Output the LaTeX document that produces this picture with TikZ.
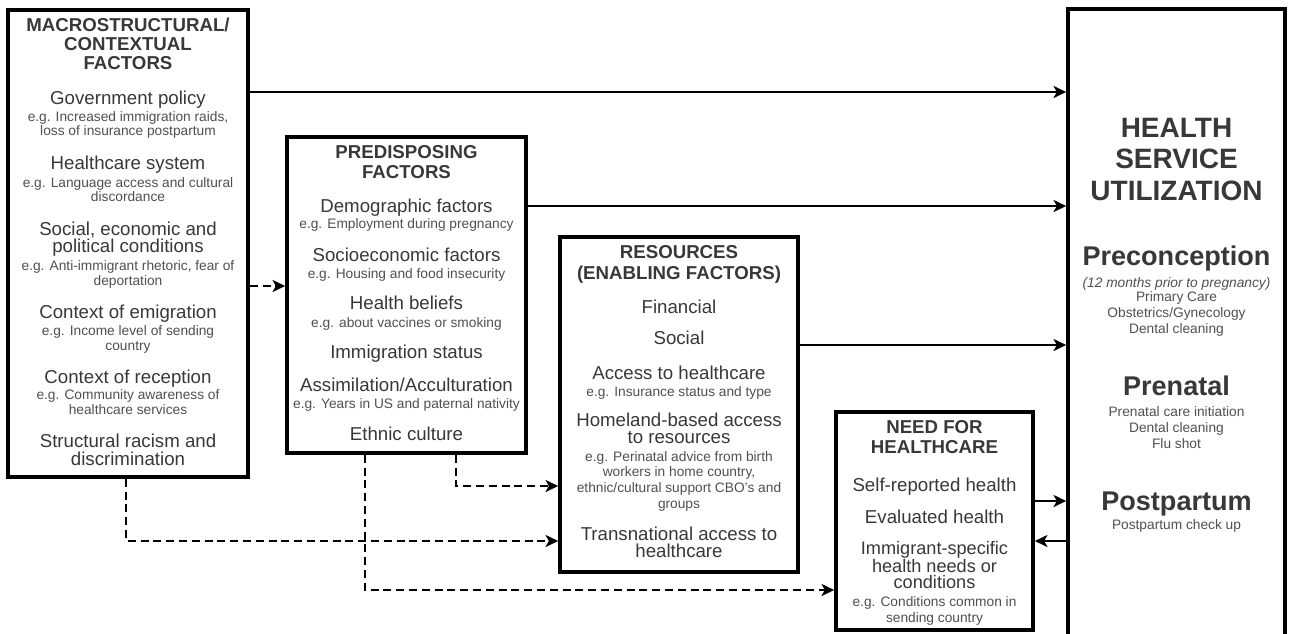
\documentclass[tikz,border=0pt]{standalone}
\usepackage{fontspec}
\setmainfont{Liberation Sans}
\usetikzlibrary{arrows.meta}
\definecolor{txt}{HTML}{383838}
\definecolor{egc}{HTML}{505050}
\tikzset{
  box/.style={draw=black, line width=2.7pt, fill=white, inner sep=0pt},
  hd/.style={font=\bfseries\fontsize{14}{14}\selectfont, text=txt, inner sep=0pt, text height=10pt, text depth=0pt},
  bighd/.style={font=\bfseries\fontsize{21}{21}\selectfont, text=txt, inner sep=0pt, text height=15pt, text depth=0pt},
  phase/.style={font=\bfseries\fontsize{20.3}{20.3}\selectfont, text=txt, inner sep=0pt, text height=14.5pt, text depth=1.5pt},
  itm/.style={font=\fontsize{14}{14}\selectfont, text=txt, inner sep=0pt, text height=10pt, text depth=1pt},
  itmtight/.style={font=\fontsize{13.6}{12.2}\selectfont, text=txt, inner sep=0pt, align=center},
  eg/.style={font=\fontsize{10.3}{10.3}\selectfont, text=egc, inner sep=0pt, text height=7.4pt, text depth=0.8pt},
  egi/.style={eg, font=\itshape\fontsize{10.3}{10.3}\selectfont},
  arr/.style={line width=2.1pt, -{Stealth[length=9.5pt,width=9pt,inset=2.5pt]}},
  dsh/.style={arr, dash pattern=on 6pt off 3.6pt}
}
\begin{document}
\begin{tikzpicture}[x=0.75pt,y=-0.75pt]
\useasboundingbox (0,0) rectangle (1289,633);
\fill[white] (0,0) rectangle (1289,633);

% boxes
\node[box, minimum width=180pt, minimum height=350.25pt] (b1) at (128,243.5) {};
\node[box, minimum width=179.25pt, minimum height=237pt] (b2) at (406.5,295) {};
\node[box, minimum width=178.5pt, minimum height=251.25pt] (b3) at (679,404.5) {};
\node[box, minimum width=147.75pt, minimum height=163.5pt] (b4) at (934.5,521) {};
\node[box, minimum width=162.75pt, minimum height=492pt] (b5) at (1176.5,337) {};

% box 1 text
\node[hd] (t101) at (128,25) {MACROSTRUCTURAL/};
\node[hd] (t102) at (128,44) {CONTEXTUAL};
\node[hd] (t103) at (128,63) {FACTORS};
\node[itm] (t104) at (128,98) {Government policy};
\node[eg] (t105) at (128,117) {e.g. Increased immigration raids,};
\node[eg] (t106) at (128,131) {loss of insurance postpartum};
\node[itm] (t107) at (128,163) {Healthcare system};
\node[eg] (t108) at (128,183) {e.g. Language access and cultural};
\node[eg] (t109) at (128,197) {discordance};
\node[itm] (t110) at (128,229) {Social, economic and};
\node[itm] (t111) at (128,246) {political conditions};
\node[eg] (t112) at (128,266) {e.g. Anti-immigrant rhetoric, fear of};
\node[eg] (t113) at (128,281) {deportation};
\node[itm] (t114) at (128,312) {Context of emigration};
\node[eg] (t115) at (128,331) {e.g. Income level of sending};
\node[eg] (t116) at (128,346) {country};
\node[itm] (t117) at (128,377) {Context of reception};
\node[eg] (t118) at (128,395) {e.g. Community awareness of};
\node[eg] (t119) at (128,410) {healthcare services};
\node[itm] (t120) at (128,441) {Structural racism and};
\node[itm] (t121) at (128,459) {discrimination};

% box 2 text
\node[hd] (t201) at (406.5,152) {PREDISPOSING};
\node[hd] (t202) at (406.5,172) {FACTORS};
\node[itm] (t203) at (406.5,206) {Demographic factors};
\node[eg] (t204) at (406.5,224) {e.g. Employment during pregnancy};
\node[itm] (t205) at (406.5,255) {Socioeconomic factors};
\node[eg] (t206) at (406.5,274) {e.g. Housing and food insecurity};
\node[itm] (t207) at (406.5,303) {Health beliefs};
\node[eg] (t208) at (406.5,323) {e.g. about vaccines or smoking};
\node[itm] (t209) at (406.5,352) {Immigration status};
\node[itm] (t210) at (406.5,385) {Assimilation/Acculturation};
\node[eg] (t211) at (406.5,404) {e.g. Years in US and paternal nativity};
\node[itm] (t212) at (406.5,434) {Ethnic culture};

% box 3 text
\node[hd] (t301) at (679,252) {RESOURCES};
\node[hd] (t302) at (679,273) {(ENABLING FACTORS)};
\node[itm] (t303) at (679,307) {Financial};
\node[itm] (t304) at (679,338) {Social};
\node[itm] (t305) at (679,373) {Access to healthcare};
\node[eg] (t306) at (679,392) {e.g. Insurance status and type};
\node[itm] (t307) at (679,420) {Homeland-based access};
\node[itm] (t308) at (679,437) {to resources};
\node[eg] (t309) at (679,457) {e.g. Perinatal advice from birth};
\node[eg] (t310) at (679,472) {workers in home country,};
\node[eg] (t311) at (679,488) {ethnic/cultural support CBO's and};
\node[eg] (t312) at (679,504) {groups};
\node[itm] (t313) at (679,534) {Transnational access to};
\node[itm] (t314) at (679,551) {healthcare};

% box 4 text
\node[hd] (t401) at (934.5,427) {NEED FOR};
\node[hd] (t402) at (934.5,447) {HEALTHCARE};
\node[itm] (t403) at (934.5,485) {Self-reported health};
\node[itm] (t404) at (934.5,517) {Evaluated health};
\node[itmtight] (t405) at (934.5,565) {Immigrant-specific\\health needs or\\conditions};
\node[eg] (t408) at (934.5,602) {e.g. Conditions common in};
\node[eg] (t409) at (934.5,618) {sending country};

% box 5 text
\node[bighd] (t501) at (1176.5,127) {HEALTH};
\node[bighd] (t502) at (1176.5,158) {SERVICE};
\node[bighd] (t503) at (1176.5,190) {UTILIZATION};
\node[phase] (t504) at (1176.5,257) {Preconception};
\node[egi] (t505) at (1176.5,283) {(12 months prior to pregnancy)};
\node[eg] (t506) at (1176.5,297) {Primary Care};
\node[eg] (t507) at (1176.5,313) {Obstetrics/Gynecology};
\node[eg] (t508) at (1176.5,329) {Dental cleaning};
\node[phase] (t509) at (1176.5,387) {Prenatal};
\node[eg] (t510) at (1176.5,412) {Prenatal care initiation};
\node[eg] (t511) at (1176.5,428) {Dental cleaning};
\node[eg] (t512) at (1176.5,444) {Flu shot};
\node[phase] (t513) at (1176.5,502) {Postpartum};
\node[eg] (t514) at (1176.5,525) {Postpartum check up};

% connector levels
\coordinate (yA) at (0,92);
\coordinate (yB) at (0,206);
\coordinate (yC) at (0,345);
\coordinate (yD) at (0,501);
\coordinate (yE) at (0,541);
\coordinate (yF) at (0,286);
\coordinate (cG) at (126,541);
\coordinate (cH) at (456,486);
\coordinate (cI) at (365,590);

% solid connectors
\draw[arr] (b1.east |- yA) -- (b5.west |- yA);
\draw[arr] (b2.east |- yB) -- (b5.west |- yB);
\draw[arr] (b3.east |- yC) -- (b5.west |- yC);
\draw[arr] (b4.east |- yD) -- (b5.west |- yD);
\draw[arr] (b5.west |- yE) -- (b4.east |- yE);

% dashed connectors
\draw[dsh] (b1.east |- yF) -- (b2.west |- yF);
\draw[dsh] (b1.south -| cG) |- (b3.west |- cG);
\draw[dsh] (b2.south -| cH) |- (b3.west |- cH);
\draw[dsh] (b2.south -| cI) |- (b4.west |- cI);
\end{tikzpicture}
\end{document}
